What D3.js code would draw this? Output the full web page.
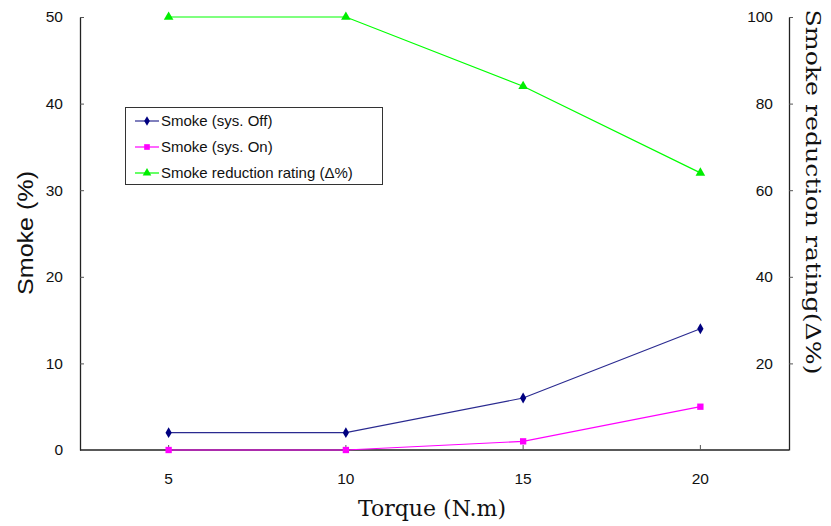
<!DOCTYPE html>
<html><head><meta charset="utf-8">
<script src="https://cdn.jsdelivr.net/npm/d3@7"></script>
<style>body{margin:0;background:#fff}svg{display:block}</style>
</head><body>
<svg id="c" width="831" height="526"></svg>
<script>
const torque = [5, 10, 15, 20];
const smokeOff = [2, 2, 6, 14];
const smokeOn = [0, 0, 1, 5];
const reduction = [100, 100, 84, 64];
const leftTicks = [0, 10, 20, 30, 40, 50];
const rightTicks = [20, 40, 60, 80, 100];
const seriesNames = ["Smoke (sys. Off)", "Smoke (sys. On)", "Smoke reduction rating (\u0394%)"];

const svg = d3.select("#c");
const L = 80, R = 789, T = 17, B = 450;
const x = d3.scaleBand().domain(torque).range([L, R]);
const cx = d => x(d) + x.bandwidth() / 2;
const yL = d3.scaleLinear().domain([0, 50]).range([B, T]);
const yR = d3.scaleLinear().domain([0, 100]).range([B, T]);
const sans = "Arial, 'Liberation Sans', sans-serif";
const serif = "'DejaVu Serif', 'Liberation Serif', serif";

// Left axis (ticks inward)
const gl = svg.append("g").attr("transform", `translate(${L},0)`)
  .call(d3.axisRight(yL).tickValues(leftTicks).tickSize(4).tickSizeOuter(0).tickFormat(d3.format("d")));
gl.selectAll("text").attr("x", -17).attr("text-anchor", "end");
// Right axis (ticks outward, labels inside)
const gr = svg.append("g").attr("transform", `translate(${R},0)`)
  .call(d3.axisRight(yR).tickValues(rightTicks).tickSize(4).tickSizeOuter(0).tickFormat(d3.format("d")));
gr.selectAll("text").attr("x", -16).attr("text-anchor", "end");
// Bottom axis (ticks inward)
const gb = svg.append("g").attr("transform", `translate(0,${B})`)
  .call(d3.axisTop(x).tickSize(5).tickSizeOuter(0).tickFormat(d3.format("d")));
gb.selectAll("text").attr("y", 34);

[gl, gr, gb].forEach(g => {
  g.select(".domain").attr("stroke", "#222").attr("stroke-width", 1.3);
  g.selectAll(".tick line").attr("stroke", "#555");
  g.selectAll("text").attr("fill", "#111").style("font-family", sans).style("font-size", "15.5px");
});
gl.selectAll(".tick").filter(d => d === 0).select("line").remove();
gb.select(".domain").attr("d", `M${L},0H${R}`);

// Axis titles
svg.append("text").attr("transform", "translate(33,233) rotate(-90)")
  .attr("text-anchor", "middle").style("font-family", sans).style("font-size", "22px").attr("fill", "#111")
  .attr("textLength", 124).attr("lengthAdjust", "spacingAndGlyphs").text("Smoke (%)");
svg.append("text").attr("transform", "translate(806,192) rotate(90)")
  .attr("text-anchor", "middle").style("font-family", serif).style("font-size", "20px").attr("fill", "#111")
  .attr("textLength", 365).attr("lengthAdjust", "spacingAndGlyphs").text("Smoke reduction rating(\u0394%)");
svg.append("text").attr("x", 432).attr("y", 516)
  .attr("text-anchor", "middle").style("font-family", serif).style("font-size", "22px").attr("fill", "#111")
  .attr("textLength", 148).attr("lengthAdjust", "spacingAndGlyphs").text("Torque (N.m)");

// Series
const series = [
  {vals: smokeOff, y: yL, color: "#000080", line: "#2a2a90", sym: d3.symbolDiamond, size: 34},
  {vals: smokeOn, y: yL, color: "#ff00ff", line: "#ff00ff", sym: d3.symbolSquare, size: 40},
  {vals: reduction, y: yR, color: "#00ee00", line: "#00ff00", sym: d3.symbolTriangle, size: 40}
];
series.forEach(s => {
  const pts = torque.map((t, i) => [cx(t), s.y(s.vals[i])]);
  svg.append("path").attr("d", d3.line()(pts)).attr("fill", "none")
    .attr("stroke", s.line).attr("stroke-width", 1.2);
  svg.selectAll(null).data(pts).enter().append("path")
    .attr("transform", d => `translate(${d[0]},${d[1]})`)
    .attr("d", d3.symbol().type(s.sym).size(s.size)).attr("fill", s.color);
});

// Legend
const lg = svg.append("g");
lg.append("rect").attr("x", 125.5).attr("y", 107.5).attr("width", 257).attr("height", 77)
  .attr("fill", "#fff").attr("stroke", "#333").attr("stroke-width", 1);
seriesNames.forEach((n, i) => {
  const yy = 121 + i * 26;
  const s = series[i];
  lg.append("line").attr("x1", 135).attr("x2", 159).attr("y1", yy).attr("y2", yy)
    .attr("stroke", s.line).attr("stroke-width", 1.2);
  lg.append("path").attr("transform", `translate(147,${yy})`)
    .attr("d", d3.symbol().type(s.sym).size(s.size * 0.8)).attr("fill", s.color);
  lg.append("text").attr("x", 161).attr("y", yy + 5).style("font-family", sans).style("font-size", "15px")
    .attr("fill", "#111").text(n);
});
</script>
</body></html>
